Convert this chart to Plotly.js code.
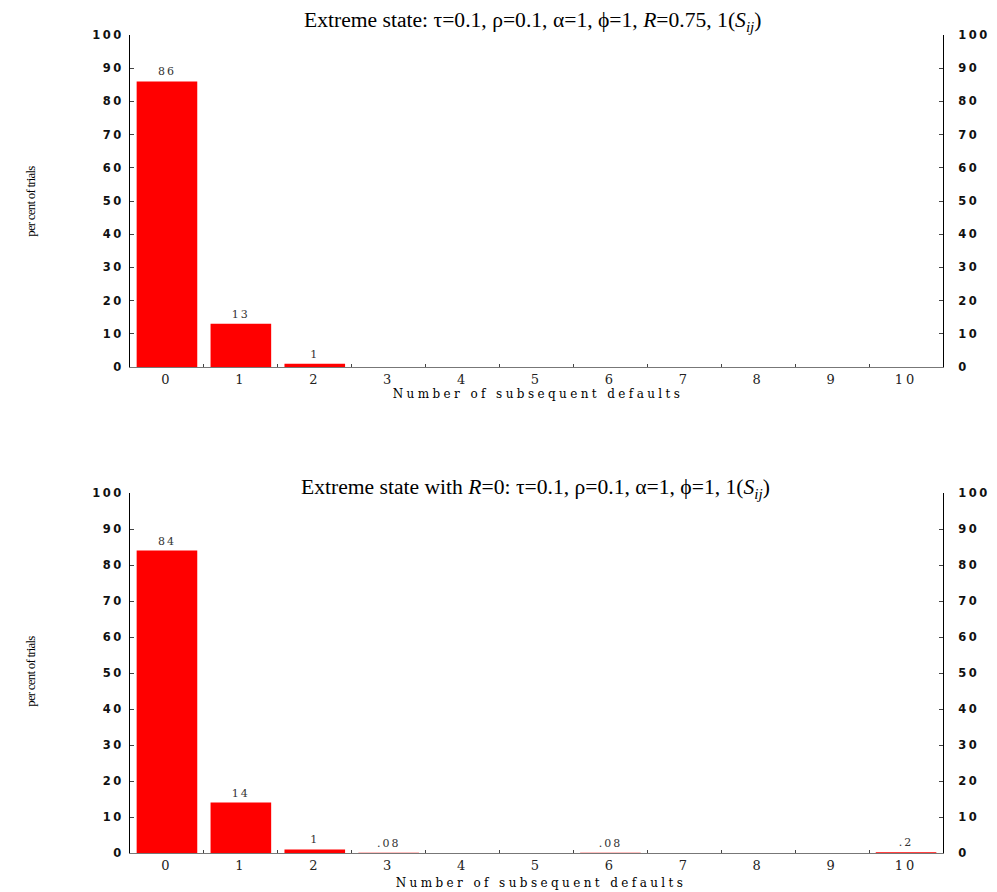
<!DOCTYPE html>
<html>
<head>
<meta charset="utf-8">
<script src="https://cdn.plot.ly/plotly-3.0.1.min.js"></script>
<style>
html,body{margin:0;padding:0;background:#fff;}
#chart{width:997px;height:892px;}
.ytick text,.y2tick text,.y3tick text,.y4tick text{letter-spacing:2.5px;}
.xtick text,.x2tick text{letter-spacing:3px;}
.bartext{letter-spacing:2px;}
.annotation[data-index="2"] text,.annotation[data-index="3"] text{letter-spacing:3.4px;}
.annotation[data-index="4"] text,.annotation[data-index="5"] text{letter-spacing:-0.8px;}
</style>
</head>
<body>
<div id="chart"></div>
<script>
const categories = [0,1,2,3,4,5,6,7,8,9,10];
const tickLabels = ['0','1','2','3','4','5','6','7','8','9','10'];
const boundaries = [0.5,1.5,2.5,3.5,4.5,5.5,6.5,7.5,8.5,9.5];
const topValues = [86,13,1,0,0,0,0,0,0,0,0];
const topLabels = ['86','13','1','','','','','','','',''];
const bottomValues = [84,14,1,0.08,0,0,0.08,0,0,0,0.2];
const bottomLabels = ['84','14','1','.08','','','.08','','','','.2'];
const yTicks = [0,10,20,30,40,50,60,70,80,90,100];
const topTitle = 'Extreme state: \u03c4=0.1, \u03c1=0.1, \u03b1=1, \u03d5=1, <i>R</i>=0.75, 1(<i>S</i><sub><i>ij</i></sub>)';
const bottomTitle = 'Extreme state with <i>R</i>=0: \u03c4=0.1, \u03c1=0.1, \u03b1=1, \u03d5=1, 1(<i>S</i><sub><i>ij</i></sub>)';
const xTitle = 'Number of subsequent defaults';
const yTitle = 'per cent of trials';

const serif = 'Liberation Serif, Times New Roman, serif';
const wideSerif = 'DejaVu Serif, serif';
const sans = 'DejaVu Sans, Verdana, sans-serif';

function barTrace(vals, labels, xa, ya){
  return {
    type:'bar', x:categories, y:vals, xaxis:xa, yaxis:ya,
    width:0.82,
    marker:{color:'#ff0000', line:{width:0}},
    text:labels, textposition:labels.map(l => l ? 'outside' : 'none'), cliponaxis:false,
    textfont:{family:wideSerif, size:11, color:'#333'},
    hoverinfo:'x+y', showlegend:false
  };
}

function xAxis(anchor){
  return {
    anchor:anchor, domain:[0,1], range:[-0.5,10.5],
    tickmode:'array', tickvals:categories, ticktext:tickLabels, ticks:'',
    tickfont:{family:wideSerif, size:13, color:'#222'},
    showline:true, linecolor:'#777', linewidth:1,
    showgrid:false, zeroline:false, fixedrange:true,
    minor:{tickmode:'array', tickvals:boundaries, ticks:'inside', ticklen:3, tickcolor:'#444', tickwidth:1, showgrid:false}
  };
}
function yAxis(anchor, domain, side, overlay){
  const a = {
    anchor:anchor, domain:domain, range:[0,100], side:side,
    tickmode:'array', tickvals:yTicks, ticks:'inside', ticklen:4, tickcolor:'#444',
    tickfont:{family:sans, size:11.5, color:'#111', weight:'bold'},
    ticklabelstandoff: side==='left'?3:12,
    showline:true, linecolor:'#000', linewidth:1,
    showgrid:false, zeroline:false, fixedrange:true
  };
  if(overlay) a.overlaying = overlay;
  return a;
}

const H = 892;
const topDom = [1-367/H, 1-35/H];
const botDom = [1-853/H, 1-493/H];

const data = [
  barTrace(topValues, topLabels, 'x', 'y'),
  barTrace(bottomValues, bottomLabels, 'x2', 'y3'),
  {type:'scatter', mode:'markers', x:[0], y:[0], xaxis:'x', yaxis:'y2', showlegend:false, hoverinfo:'skip', marker:{opacity:0, size:1}},
  {type:'scatter', mode:'markers', x:[0], y:[0], xaxis:'x2', yaxis:'y4', showlegend:false, hoverinfo:'skip', marker:{opacity:0, size:1}}
];

function ann(text, x, y, size, font, angle){
  return {text:text, xref:'paper', yref:'paper', x:x, y:y, showarrow:false,
    xanchor:'center', yanchor:'middle', textangle:angle||0,
    font:{family:font, size:size, color:'#000'}};
}
const xp = px => (px-130)/813;
const yp = py => 1-py/H;

const layout = {
  width:997, height:892,
  margin:{l:130, r:54, t:0, b:0},
  paper_bgcolor:'#fff', plot_bgcolor:'#fff',
  xaxis: xAxis('y'),
  xaxis2: xAxis('y3'),
  yaxis: yAxis('x', topDom, 'left'),
  yaxis2: yAxis('x', topDom, 'right', 'y'),
  yaxis3: yAxis('x2', botDom, 'left'),
  yaxis4: yAxis('x2', botDom, 'right', 'y3'),
  annotations:[
    ann(topTitle, xp(533), yp(22), 21.6, serif),
    ann(bottomTitle, xp(535), yp(488), 21.6, serif),
    ann(xTitle, xp(538), yp(394), 12, wideSerif),
    ann(xTitle, xp(541), yp(883), 12, wideSerif),
    ann(yTitle, xp(30), yp(202), 13, serif, -90),
    ann(yTitle, xp(30), yp(672), 13, serif, -90)
  ]
};

Plotly.newPlot('chart', data, layout, {displayModeBar:false, staticPlot:true});
</script>
</body>
</html>
